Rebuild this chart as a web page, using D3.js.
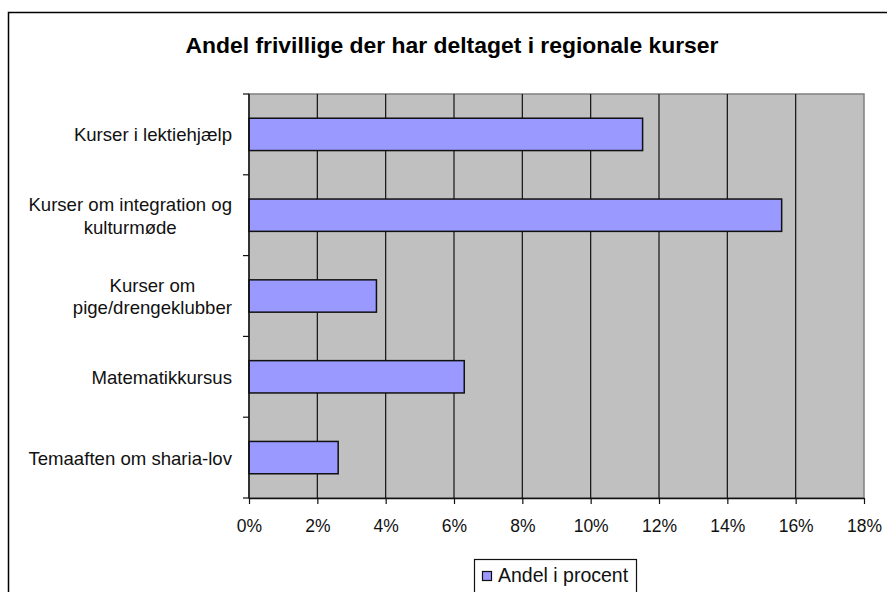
<!DOCTYPE html>
<html>
<head>
<meta charset="utf-8">
<script src="https://cdn.jsdelivr.net/npm/d3@7"></script>
<style>
  body { margin: 0; background: white; }
  svg { display: block; font-family: "Liberation Sans", Arial, sans-serif; }
</style>
</head>
<body>
<div id="container"></div>
<script>
// chart data
const categories = [
  ["Kurser i lektiehjælp"],
  ["Kurser om integration og", "kulturmøde"],
  ["Kurser om", "pige/drengeklubber"],
  ["Matematikkursus"],
  ["Temaaften om sharia-lov"]
];
const values = [11.52, 15.59, 3.73, 6.30, 2.61];
const xTicks = [0, 2, 4, 6, 8, 10, 12, 14, 16, 18];
const title = "Andel frivillige der har deltaget i regionale kurser";
const seriesName = "Andel i procent";

const width = 887, height = 592;
const plot = { left: 249, right: 864, top: 94, bottom: 498 };

const svg = d3.select("#container").append("svg")
  .attr("width", width)
  .attr("height", height);

// outer chart frame (runs off the right and bottom edges)
svg.append("rect")
  .attr("x", 8.5).attr("y", 12.5)
  .attr("width", 900).attr("height", 600)
  .attr("fill", "white")
  .attr("stroke", "black")
  .attr("stroke-width", 1.5);

svg.append("text")
  .attr("x", 452)
  .attr("y", 53)
  .attr("text-anchor", "middle")
  .attr("font-weight", "bold")
  .attr("font-size", 22.9)
  .text(title);

const x = d3.scaleLinear()
  .domain([0, 18])
  .range([plot.left, plot.right]);

const y = d3.scaleBand()
  .domain(d3.range(categories.length))
  .range([plot.top, plot.bottom])
  .paddingInner(0.6)
  .paddingOuter(0.3);

// plot background
svg.append("rect")
  .attr("x", plot.left).attr("y", plot.top)
  .attr("width", plot.right - plot.left)
  .attr("height", plot.bottom - plot.top)
  .attr("fill", "#c0c0c0")
  .attr("stroke", "#808080")
  .attr("stroke-width", 1.5);

// vertical gridlines
svg.append("g")
  .selectAll("line")
  .data(xTicks.slice(1, -1))
  .join("line")
  .attr("x1", d => x(d)).attr("x2", d => x(d))
  .attr("y1", plot.top).attr("y2", plot.bottom)
  .attr("stroke", "#111")
  .attr("stroke-width", 1.2);

// bars
svg.append("g")
  .selectAll("rect")
  .data(values)
  .join("rect")
  .attr("x", x(0))
  .attr("y", (d, i) => y(i))
  .attr("width", d => x(d) - x(0))
  .attr("height", y.bandwidth())
  .attr("fill", "#9999ff")
  .attr("stroke", "#111")
  .attr("stroke-width", 1.5);

// x axis
const xAxis = svg.append("g")
  .attr("transform", `translate(0,${plot.bottom})`)
  .call(d3.axisBottom(x).tickValues(xTicks).tickFormat(d => d + "%").tickSize(6).tickSizeOuter(0));
xAxis.select(".domain").attr("stroke", "#111").attr("stroke-width", 1.5);
xAxis.selectAll(".tick line").attr("stroke", "#111").attr("stroke-width", 1.2);
xAxis.selectAll(".tick text")
  .attr("y", 22)
  .attr("dy", "0.71em")
  .attr("font-size", 17.5)
  .attr("font-family", "Liberation Sans, Arial, sans-serif")
  .attr("fill", "#111");

// y axis: ticks at band boundaries
const boundaries = d3.range(categories.length + 1)
  .map(i => plot.top + i * (plot.bottom - plot.top) / categories.length);
const yAxis = svg.append("g");
yAxis.append("line")
  .attr("x1", plot.left).attr("x2", plot.left)
  .attr("y1", plot.top).attr("y2", plot.bottom)
  .attr("stroke", "#111").attr("stroke-width", 1.5);
yAxis.selectAll(".tk")
  .data(boundaries)
  .join("line")
  .attr("class", "tk")
  .attr("x1", plot.left - 6).attr("x2", plot.left)
  .attr("y1", d => d).attr("y2", d => d)
  .attr("stroke", "#111").attr("stroke-width", 1.2);

// category labels
const lineH = 22.6;
svg.append("g")
  .selectAll("text")
  .data(categories)
  .join("text")
  .attr("font-size", 18.6)
  .attr("fill", "#111")
  .each(function(lines, i) {
    const t = d3.select(this);
    const cy = y(i) + y.bandwidth() / 2;
    if (lines.length === 1) {
      t.attr("text-anchor", "end")
        .attr("x", 232)
        .attr("y", cy + 7)
        .text(lines[0]);
    } else {
      // centred block, right edge at 232
      t.attr("text-anchor", "middle");
      lines.forEach((s, k) => {
        t.append("tspan")
          .attr("x", 0)
          .attr("y", cy + 7 + (k - (lines.length - 1) / 2) * lineH)
          .text(s);
      });
      const bb = this.getBBox();
      t.selectAll("tspan").attr("x", 232 - bb.width / 2);
    }
  });

// legend
const legend = svg.append("g");
legend.append("rect")
  .attr("x", 474.5).attr("y", 559.5)
  .attr("width", 162).attr("height", 45)
  .attr("fill", "white")
  .attr("stroke", "#111")
  .attr("stroke-width", 1.2);
legend.append("rect")
  .attr("x", 482.5).attr("y", 571.5)
  .attr("width", 9).attr("height", 9)
  .attr("fill", "#9999ff")
  .attr("stroke", "#111")
  .attr("stroke-width", 1.2);
legend.append("text")
  .attr("x", 498)
  .attr("y", 582)
  .attr("font-size", 19.5)
  .attr("fill", "#111")
  .text(seriesName);
</script>
</body>
</html>
